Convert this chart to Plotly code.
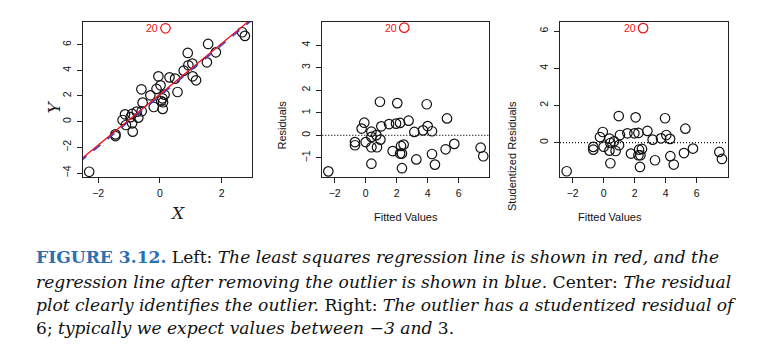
import plotly.graph_objects as go

W, H = 757, 353

# ---------------- data ----------------
x_vals = [-2.29, -1.44, -1.44, -1.21, -1.13, -1.10, -0.95, -0.90, -0.90, -0.88, -0.75, -0.70,
          -0.60, -0.59, -0.56, -0.31, -0.20, -0.11, -0.05, 0.02, 0.04, 0.08, 0.09, 0.10,
          0.15, 0.31, 0.49, 0.57, 0.77, 0.90, 0.92, 1.05, 1.06, 1.17, 1.52, 1.56, 1.81,
          2.66, 2.75]
y_vals = [-3.90, -0.99, -1.12, 0.13, 0.57, -0.26, 0.35, -0.13, 0.60, -0.78, 0.78, 0.31,
          2.52, 0.81, 1.48, 2.05, 1.14, 2.55, 3.53, 2.83, 1.61, 1.82, 0.99, 1.51,
          2.10, 3.45, 3.35, 2.31, 3.97, 5.35, 4.39, 4.52, 3.53, 3.22, 4.62, 6.05, 5.40,
          6.96, 6.68]
outlier_x, outlier_y = [0.18], [7.27]

fitted = [-2.41, -0.69, -0.69, -0.26, -0.09, 0.00, 0.37, 0.37, 0.37, 0.37, 0.69, 0.73,
          0.92, 0.95, 1.01, 1.51, 1.74, 1.96, 2.04, 2.22, 2.28, 2.22, 2.34, 2.45,
          2.34, 2.77, 3.14, 3.27, 3.70, 3.94, 4.00, 4.28, 4.28, 4.47, 5.16, 5.25, 5.72,
          7.42, 7.59]
residuals = [-1.60, -0.30, -0.44, 0.30, 0.56, -0.30, 0.16, -0.07, -0.53, -1.26, 0.01, -0.53,
             1.49, -0.19, 0.40, 0.50, -0.70, 0.52, 1.43, 0.55, -0.47, -0.81, -0.81, -0.41,
             -1.46, 0.65, 0.15, -1.07, 0.22, 1.38, 0.41, 0.18, -0.83, -1.30, -0.62, 0.75, -0.38,
             -0.55, -0.93]
outlier_fit, outlier_res = [2.49], [4.78]

fitted3 = [-2.39, -0.67, -0.67, -0.24, -0.06, 0.00, 0.37, 0.43, 0.37, 0.43, 0.67, 0.77,
           0.97, 0.99, 1.05, 1.53, 1.76, 1.98, 2.06, 2.24, 2.28, 2.24, 2.37, 2.47,
           2.34, 2.82, 3.16, 3.31, 3.70, 3.96, 4.04, 4.28, 4.30, 4.52, 5.18, 5.27, 5.76,
           7.46, 7.63]
stud_res = [-1.54, -0.23, -0.38, 0.30, 0.57, -0.22, 0.22, -0.02, -0.43, -1.11, 0.07, -0.45,
            1.43, -0.14, 0.41, 0.50, -0.59, 0.50, 1.36, 0.52, -0.38, -0.68, -0.68, -0.34,
            -1.31, 0.63, 0.16, -0.95, 0.23, 1.31, 0.41, 0.20, -0.73, -1.18, -0.56, 0.75, -0.32,
            -0.50, -0.88]
outlier_fit3, outlier_stud = [2.54], [6.16]

line_x = [-2.6, 3.1]
red_coef = [2.13, 1.98]   # intercept, slope (all data)
blue_coef = [2.01, 1.98]  # intercept, slope (outlier removed)

outlier_label = "20"

# ---------------- figure ----------------
fig = go.Figure()

circ = dict(symbol="circle-open", size=9.5, color="#111111", line=dict(width=1.2, color="#111111"))
red_circ = dict(symbol="circle-open", size=9.5, color="#ee1111", line=dict(width=1.2, color="#ee1111"))

# panel 1
fig.add_trace(go.Scatter(x=x_vals, y=y_vals, mode="markers", marker=circ, xaxis="x", yaxis="y"))
fig.add_trace(go.Scatter(x=line_x, y=[blue_coef[0] + blue_coef[1] * v for v in line_x], mode="lines",
                         line=dict(color="#3344cc", width=1.6, dash="dash"), xaxis="x", yaxis="y"))
fig.add_trace(go.Scatter(x=line_x, y=[red_coef[0] + red_coef[1] * v for v in line_x], mode="lines",
                         line=dict(color="#ee1122", width=1.3), xaxis="x", yaxis="y"))
fig.add_trace(go.Scatter(x=outlier_x, y=outlier_y, mode="markers", marker=red_circ, xaxis="x", yaxis="y"))

# panel 2
fig.add_trace(go.Scatter(x=fitted, y=residuals, mode="markers", marker=circ, xaxis="x2", yaxis="y2"))
fig.add_trace(go.Scatter(x=outlier_fit, y=outlier_res, mode="markers", marker=red_circ, xaxis="x2", yaxis="y2"))

# panel 3
fig.add_trace(go.Scatter(x=fitted3, y=stud_res, mode="markers", marker=circ, xaxis="x3", yaxis="y3"))
fig.add_trace(go.Scatter(x=outlier_fit3, y=outlier_stud, mode="markers", marker=red_circ, xaxis="x3", yaxis="y3"))

ydom = [1 - 177 / H, 1 - 22 / H]
tickfont = dict(family="Liberation Sans, Arial", size=10.5, color="#111111")

def ax(domain, rng, tickvals, anchor, vertical=False):
    d = dict(domain=domain, range=rng, tickvals=tickvals, ticks="outside", ticklen=5,
             tickwidth=1, tickcolor="#222222", showline=True, linecolor="#222222", linewidth=1.2,
             mirror=True, showgrid=False, zeroline=False, tickfont=tickfont, anchor=anchor,
             fixedrange=True)
    if vertical:
        d["tickangle"] = -90
        d["ticklabelstandoff"] = 2
    else:
        d["ticklabelstandoff"] = 1
    return d

fig.update_layout(
    width=W, height=H, margin=dict(l=0, r=0, t=0, b=0),
    paper_bgcolor="white", plot_bgcolor="white", showlegend=False,
    xaxis=ax([83 / W, 252 / W], [-2.49, 2.98], [-2, 0, 2], "y"),
    yaxis=ax(ydom, [-4.31, 7.76], [-4, -2, 0, 2, 4, 6], "x", True),
    xaxis2=ax([322.3 / W, 489 / W], [-2.80, 7.96], [-2, 0, 2, 4, 6], "y2"),
    yaxis2=ax(ydom, [-1.85, 5.03], [-1, 0, 1, 2, 3, 4], "x2", True),
    xaxis3=ax([560 / W, 728.3 / W], [-2.82, 8.04], [-2, 0, 2, 4, 6], "y3"),
    yaxis3=ax(ydom, [-1.85, 6.49], [0, 2, 4, 6], "x3", True),
)

for xr in ["x2", "x3"]:
    fig.add_shape(type="line", xref=xr + " domain", yref=xr.replace("x", "y"), x0=0, x1=1, y0=0, y1=0,
                  line=dict(color="#111111", width=1.3, dash="1px,2px"))

# outlier labels
lab = dict(color="#ee1111", size=10.5, family="Liberation Sans, Arial")
fig.add_annotation(x=outlier_x[0], y=outlier_y[0], xref="x", yref="y", text=outlier_label, showarrow=False,
                   xanchor="right", xshift=-5, font=lab)
fig.add_annotation(x=outlier_fit[0], y=outlier_res[0], xref="x2", yref="y2", text=outlier_label, showarrow=False,
                   xanchor="right", xshift=-5, font=lab)
fig.add_annotation(x=outlier_fit3[0], y=outlier_stud[0], xref="x3", yref="y3", text=outlier_label, showarrow=False,
                   xanchor="right", xshift=-5, font=lab)

# axis titles
serif_it = dict(family="DejaVu Serif", size=17, color="#222222")
sans = dict(family="Liberation Sans, Arial", size=11, color="#111111")
fig.add_annotation(x=(83 + 252) / 2 / W, y=1 - 213 / H, xref="paper", yref="paper", text="<i>X</i>",
                   showarrow=False, font=serif_it)
fig.add_annotation(x=42 / W, y=1 - 99 / H, xref="paper", yref="paper", text="<i>Y</i>",
                   showarrow=False, font=serif_it, textangle=-90)
fig.add_annotation(x=(322 + 489) / 2 / W, y=1 - 217 / H, xref="paper", yref="paper", text="Fitted Values",
                   showarrow=False, font=sans)
fig.add_annotation(x=282 / W, y=1 - 99 / H, xref="paper", yref="paper", text="Residuals",
                   showarrow=False, font=sans, textangle=-90)
fig.add_annotation(x=(560 + 728) / 2 / W, y=1 - 217 / H, xref="paper", yref="paper", text="Fitted Values",
                   showarrow=False, font=sans)
fig.add_annotation(x=520 / W, y=1 - 99 / H, xref="paper", yref="paper", text="Studentized Residuals",
                   showarrow=False, font=sans, textangle=-90)

# caption
blue = "#2c6fb0"
caption_lines = [
    f"<b><span style='color:{blue}'>FIGURE 3.12.</span></b> Left: <i>The least squares regression line is shown in red, and the</i>",
    "<i>regression line after removing the outlier is shown in blue.</i> Center: <i>The residual</i>",
    "<i>plot clearly identifies the outlier.</i> Right: <i>The outlier has a studentized residual of</i>",
    "6; <i>typically we expect values between \u22123 and</i> 3.",
]
caption_y = [257, 281.5, 304.5, 327.5]
for t, yy in zip(caption_lines, caption_y):
    fig.add_annotation(x=34 / W, y=1 - yy / H, xref="paper", yref="paper", text=t, showarrow=False,
                       xanchor="left", yanchor="middle", font=dict(family="DejaVu Serif", size=17.1, color="#111111"))

fig.write_html("out.html")
